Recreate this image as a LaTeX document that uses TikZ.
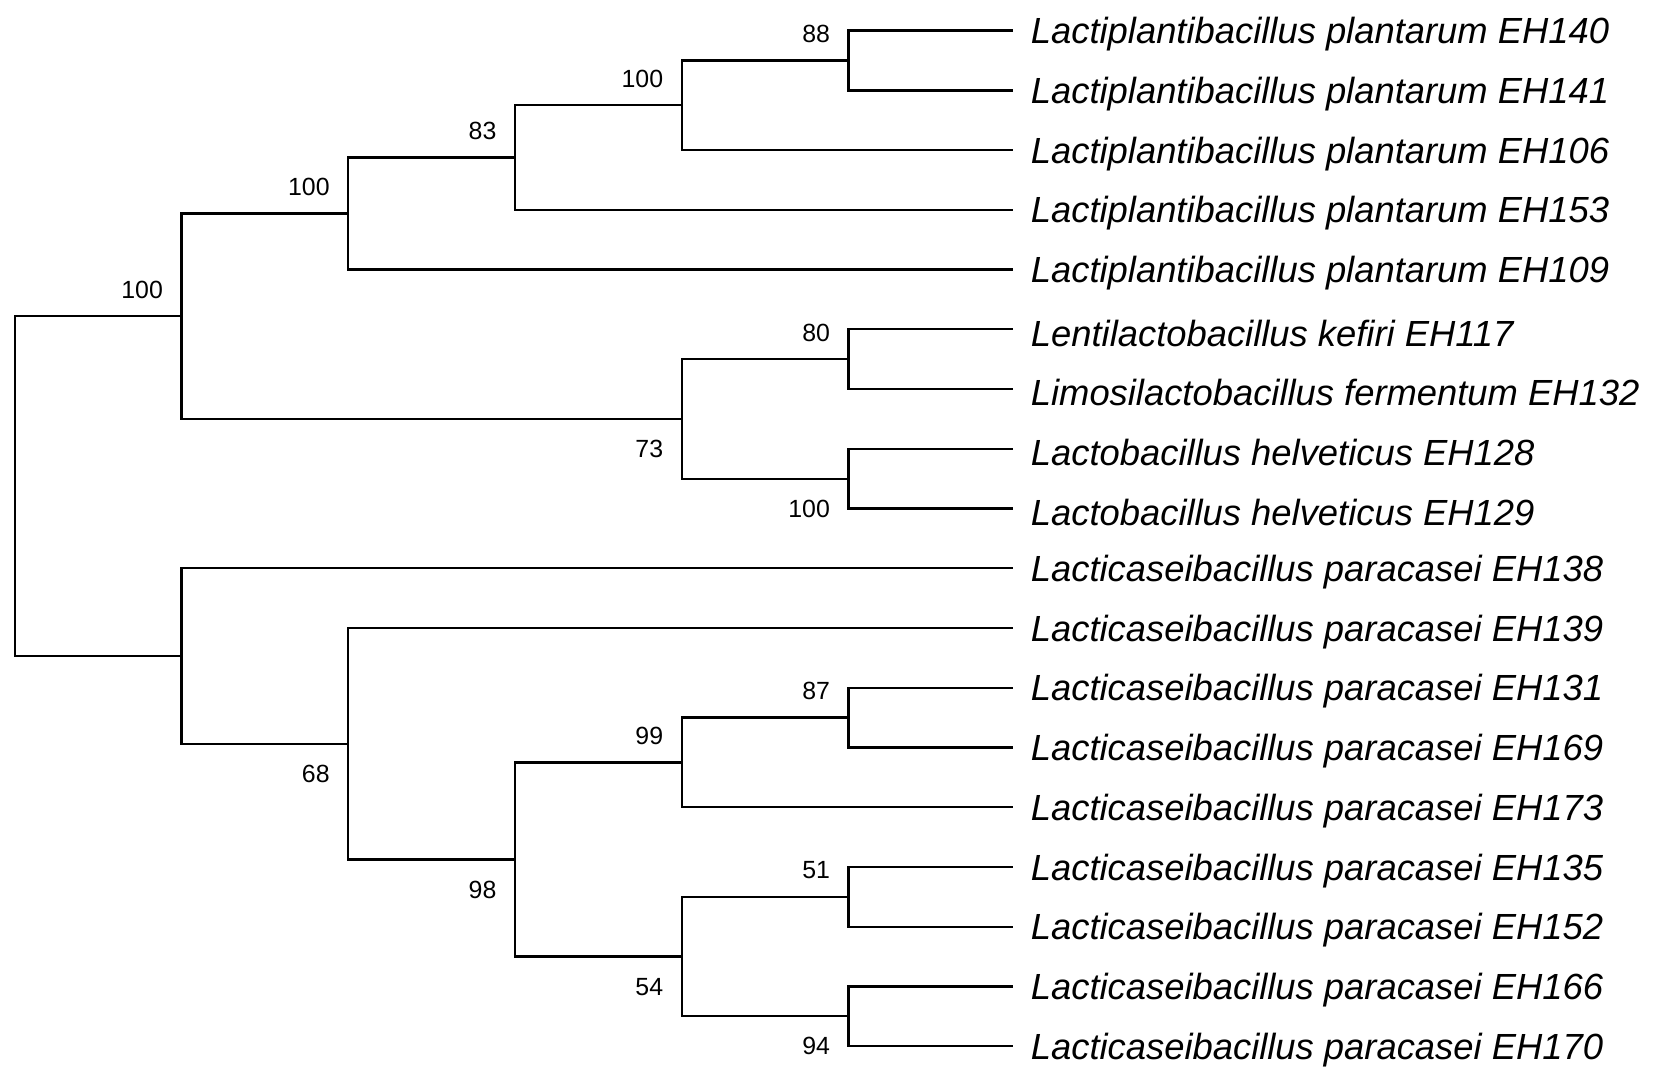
\documentclass[tikz,border=0pt]{standalone}
\usepackage{fontspec}
\setmainfont{Liberation Sans}
\usepackage{xcolor}
\usepackage{tikz}
\usetikzlibrary{positioning}

\tikzset{
  branch/.style={draw=black, line width=0.62pt},
  taxon/.style={font=\fontsize{9.8}{11}\selectfont\itshape, anchor=west, inner sep=0pt, yshift=-0.035cm},
  bsup/.style={font=\fontsize{6.7}{8}\selectfont, anchor=east, inner sep=0pt, xshift=-0.17cm, yshift=0.25cm},
  bsdown/.style={font=\fontsize{6.7}{8}\selectfont, anchor=east, inner sep=0pt, xshift=-0.17cm, yshift=-0.285cm}
}

\begin{document}
\begin{tikzpicture}[x=0.01cm, y=-0.01cm]
  \useasboundingbox (0,0) rectangle (1568,1018);

  % Leaf tips
  \coordinate (l140) at (960,29);
  \coordinate (l141) at (960,85.6);
  \coordinate (l106) at (960,142.2);
  \coordinate (l153) at (960,198.8);
  \coordinate (l109) at (960,255.4);
  \coordinate (l117) at (960,312);
  \coordinate (l132) at (960,368.6);
  \coordinate (l128) at (960,425.2);
  \coordinate (l129) at (960,481.8);
  \coordinate (l138) at (960,538.4);
  \coordinate (l139) at (960,595);
  \coordinate (l131) at (960,651.6);
  \coordinate (l169) at (960,708.2);
  \coordinate (l173) at (960,764.8);
  \coordinate (l135) at (960,821.4);
  \coordinate (l152) at (960,878);
  \coordinate (l166) at (960,934.6);
  \coordinate (l170) at (960,991.2);

  % Internal nodes
  \coordinate (n88) at (804,57.3);
  \coordinate (n100c) at (646,99.75);
  \coordinate (n83) at (488,149.3);
  \coordinate (n100b) at (330,202.35);
  \coordinate (n80) at (804,340.3);
  \coordinate (n100d) at (804,453.5);
  \coordinate (n73) at (646,396.9);
  \coordinate (n100a) at (172,299.6);
  \coordinate (n87) at (804,679.9);
  \coordinate (n99) at (646,722.35);
  \coordinate (n51) at (804,849.7);
  \coordinate (n94) at (804,962.9);
  \coordinate (n54) at (646,906.3);
  \coordinate (n98) at (488,814.3);
  \coordinate (n68) at (330,704.65);
  \coordinate (n38) at (172,621.5);
  \coordinate (root) at (14,460.6);

  % Branches
  \draw[branch] (n88) |- (l140);
  \draw[branch] (n88) |- (l141);
  \draw[branch] (n100c) |- (n88);
  \draw[branch] (n100c) |- (l106);
  \draw[branch] (n83) |- (n100c);
  \draw[branch] (n83) |- (l153);
  \draw[branch] (n100b) |- (n83);
  \draw[branch] (n100b) |- (l109);
  \draw[branch] (n80) |- (l117);
  \draw[branch] (n80) |- (l132);
  \draw[branch] (n100d) |- (l128);
  \draw[branch] (n100d) |- (l129);
  \draw[branch] (n73) |- (n80);
  \draw[branch] (n73) |- (n100d);
  \draw[branch] (n100a) |- (n100b);
  \draw[branch] (n100a) |- (n73);
  \draw[branch] (n87) |- (l131);
  \draw[branch] (n87) |- (l169);
  \draw[branch] (n99) |- (n87);
  \draw[branch] (n99) |- (l173);
  \draw[branch] (n51) |- (l135);
  \draw[branch] (n51) |- (l152);
  \draw[branch] (n94) |- (l166);
  \draw[branch] (n94) |- (l170);
  \draw[branch] (n54) |- (n51);
  \draw[branch] (n54) |- (n94);
  \draw[branch] (n98) |- (n99);
  \draw[branch] (n98) |- (n54);
  \draw[branch] (n68) |- (l139);
  \draw[branch] (n68) |- (n98);
  \draw[branch] (n38) |- (l138);
  \draw[branch] (n38) |- (n68);
  \draw[branch] (root) |- (n100a);
  \draw[branch] (root) |- (n38);

  % Bootstrap values
  \node[bsup] (b88) at (n88) {88};
  \node[bsup] (b100c) at (n100c) {100};
  \node[bsup] (b83) at (n83) {83};
  \node[bsup] (b100b) at (n100b) {100};
  \node[bsup] (b100a) at (n100a) {100};
  \node[bsup] (b80) at (n80) {80};
  \node[bsdown] (b73) at (n73) {73};
  \node[bsdown] (b100d) at (n100d) {100};
  \node[bsup] (b87) at (n87) {87};
  \node[bsup] (b99) at (n99) {99};
  \node[bsdown] (b68) at (n68) {68};
  \node[bsdown] (b98) at (n98) {98};
  \node[bsup] (b51) at (n51) {51};
  \node[bsdown] (b54) at (n54) {54};
  \node[bsdown] (b94) at (n94) {94};

  % Taxon labels
  \node[taxon, right=0.16cm of l140] (t140) {Lactiplantibacillus plantarum EH140};
  \node[taxon, right=0.16cm of l141] (t141) {Lactiplantibacillus plantarum EH141};
  \node[taxon, right=0.16cm of l106] (t106) {Lactiplantibacillus plantarum EH106};
  \node[taxon, right=0.16cm of l153] (t153) {Lactiplantibacillus plantarum EH153};
  \node[taxon, right=0.16cm of l109] (t109) {Lactiplantibacillus plantarum EH109};
  \node[taxon, right=0.16cm of l117] (t117) {Lentilactobacillus kefiri EH117};
  \node[taxon, right=0.16cm of l132] (t132) {Limosilactobacillus fermentum EH132};
  \node[taxon, right=0.16cm of l128] (t128) {Lactobacillus helveticus EH128};
  \node[taxon, right=0.16cm of l129] (t129) {Lactobacillus helveticus EH129};
  \node[taxon, right=0.16cm of l138] (t138) {Lacticaseibacillus paracasei EH138};
  \node[taxon, right=0.16cm of l139] (t139) {Lacticaseibacillus paracasei EH139};
  \node[taxon, right=0.16cm of l131] (t131) {Lacticaseibacillus paracasei EH131};
  \node[taxon, right=0.16cm of l169] (t169) {Lacticaseibacillus paracasei EH169};
  \node[taxon, right=0.16cm of l173] (t173) {Lacticaseibacillus paracasei EH173};
  \node[taxon, right=0.16cm of l135] (t135) {Lacticaseibacillus paracasei EH135};
  \node[taxon, right=0.16cm of l152] (t152) {Lacticaseibacillus paracasei EH152};
  \node[taxon, right=0.16cm of l166] (t166) {Lacticaseibacillus paracasei EH166};
  \node[taxon, right=0.16cm of l170] (t170) {Lacticaseibacillus paracasei EH170};
\end{tikzpicture}
\end{document}
